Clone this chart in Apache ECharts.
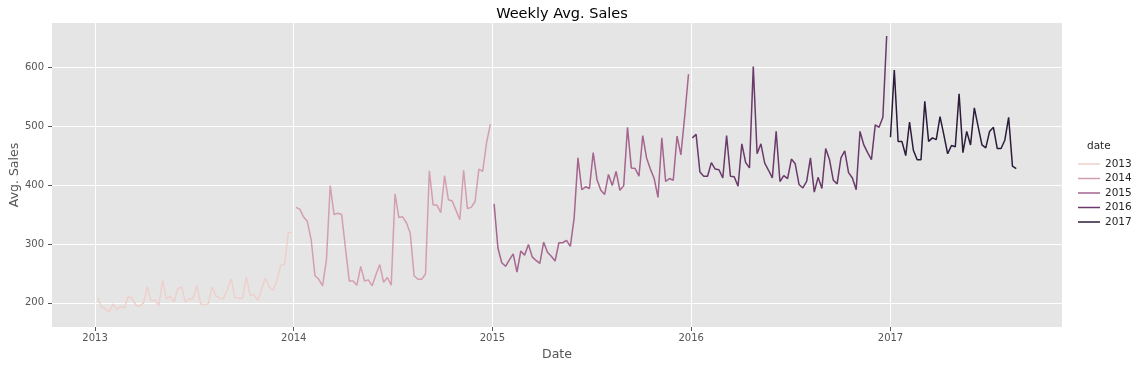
<!DOCTYPE html>
<html><head><meta charset="utf-8">
<script src="https://cdn.jsdelivr.net/npm/echarts@6/dist/echarts.min.js"></script>
<style>html,body{margin:0;padding:0;background:#fff}#c{width:1136px;height:369px}</style>
</head><body><div id="c"></div>
<script>
const years = ['2013','2014','2015','2016','2017'];
const startDates = [[2013,0,6],[2014,0,5],[2015,0,4],[2016,0,3],[2017,0,1]];
const sales2013 = [208,193,190,184,198,189,194,191,211,207,196,194,200,228,203,205,195,238,207,211,202,224,227,201,207,207,229,198,197,198,227,212,208,207,223,241,209,208,208,244,213,214,204,223,242,227,221,237,264,265,319,320];
const sales2014 = [362,359,346,338,307,246,240,229,273,399,350,352,350,293,237,237,230,262,237,239,229,248,265,235,243,230,385,345,346,336,318,246,240,240,249,424,366,366,353,416,375,373,357,341,425,360,362,372,427,423,471,503];
const sales2015 = [368,293,268,262,273,283,252,288,281,299,278,272,267,303,286,279,271,302,302,306,296,344,446,392,397,394,455,409,391,384,418,399,423,391,399,498,429,428,415,484,446,427,411,379,480,406,411,408,483,451,516,588];
const sales2016 = [480,486,422,415,415,438,427,426,412,484,415,414,398,470,438,429,601,453,470,437,425,412,491,406,416,411,444,436,401,395,406,446,388,413,394,462,443,408,402,446,458,421,412,392,491,468,455,443,502,498,515,653];
const sales2017 = [481,595,474,474,450,507,459,443,443,542,474,480,477,516,485,453,467,465,555,455,491,468,531,499,468,463,491,498,462,462,476,515,432,428];
const yTicks = [200,300,400,500,600];
const xTickYears = [2013,2014,2015,2016,2017];
const colors = ['#eed0cb','#d39fae','#a5658f','#6a3a6a','#2b1c3a'];

const allSales = [sales2013,sales2014,sales2015,sales2016,sales2017];
const DAY = 86400000;
const series = years.map((y,k)=>{
  const s = startDates[k];
  const t0 = Date.UTC(s[0],s[1],s[2]);
  return {
    name: y, type: 'line', showSymbol: false, symbol: 'none',
    data: allSales[k].map((v,i)=>[t0 + i*7*DAY, v]),
    lineStyle: {width: 1.5, color: colors[k]},
    itemStyle: {color: colors[k]},
    emphasis: {disabled: true}
  };
});
const xTicks = xTickYears.map(y=>Date.UTC(y,0,1));
const font = 'DejaVu Sans';
const chart = echarts.init(document.getElementById('c'), null, {renderer:'canvas'});
chart.setOption({
  animation: false,
  backgroundColor: '#ffffff',
  textStyle: {fontFamily: font},
  title: {text: 'Weekly Avg. Sales', left: 557, top: 2, textAlign: 'center',
    textStyle: {fontFamily: font, fontSize: 14.5, fontWeight: 'normal', color: '#000'}},
  grid: {left: 52, top: 23, width: 1010, height: 304, show: true, backgroundColor: '#e5e5e5', borderWidth: 0,
    containLabel: false, outerBoundsMode: 'none'},
  xAxis: {
    type: 'value',
    min: Date.UTC(2012,9,14), max: Date.UTC(2017,10,12),
    name: 'Date', nameLocation: 'middle', nameGap: 21,
    nameTextStyle: {fontFamily: font, fontSize: 12.5, color: '#555'},
    axisLine: {show: false},
    axisTick: {show: true, length: 4, lineStyle: {color: '#555'}, customValues: xTicks},
    axisLabel: {customValues: xTicks, fontFamily: font, fontSize: 10, color: '#555', margin: 6,
      formatter: v => String(new Date(v).getUTCFullYear())},
    splitLine: {show: true, lineStyle: {color: '#ffffff', width: 1}}
  },
  yAxis: {
    type: 'value', min: 159, max: 675,
    name: 'Avg. Sales', nameLocation: 'middle', nameGap: 31, nameMoveOverlap: false,
    nameTextStyle: {fontFamily: font, fontSize: 12.5, color: '#555'},
    axisLine: {show: false},
    axisTick: {show: true, length: 4, lineStyle: {color: '#555'}, customValues: yTicks},
    axisLabel: {customValues: yTicks, fontFamily: font, fontSize: 10, color: '#555', margin: 8},
    splitLine: {show: true, lineStyle: {color: '#ffffff', width: 1}}
  },
  legend: {
    orient: 'vertical', left: 1073, top: 153, icon: 'rect', itemWidth: 22, itemHeight: 1.5,
    itemGap: 2.5, data: years,
    textStyle: {fontFamily: font, fontSize: 10.5, color: '#262626', lineHeight: 12}
  },
  graphic: [{type: 'text', left: 1087, top: 141, style: {text: 'date', font: '10.5px "DejaVu Sans"', fill: '#262626'}}],
  series: series
});
</script></body></html>
